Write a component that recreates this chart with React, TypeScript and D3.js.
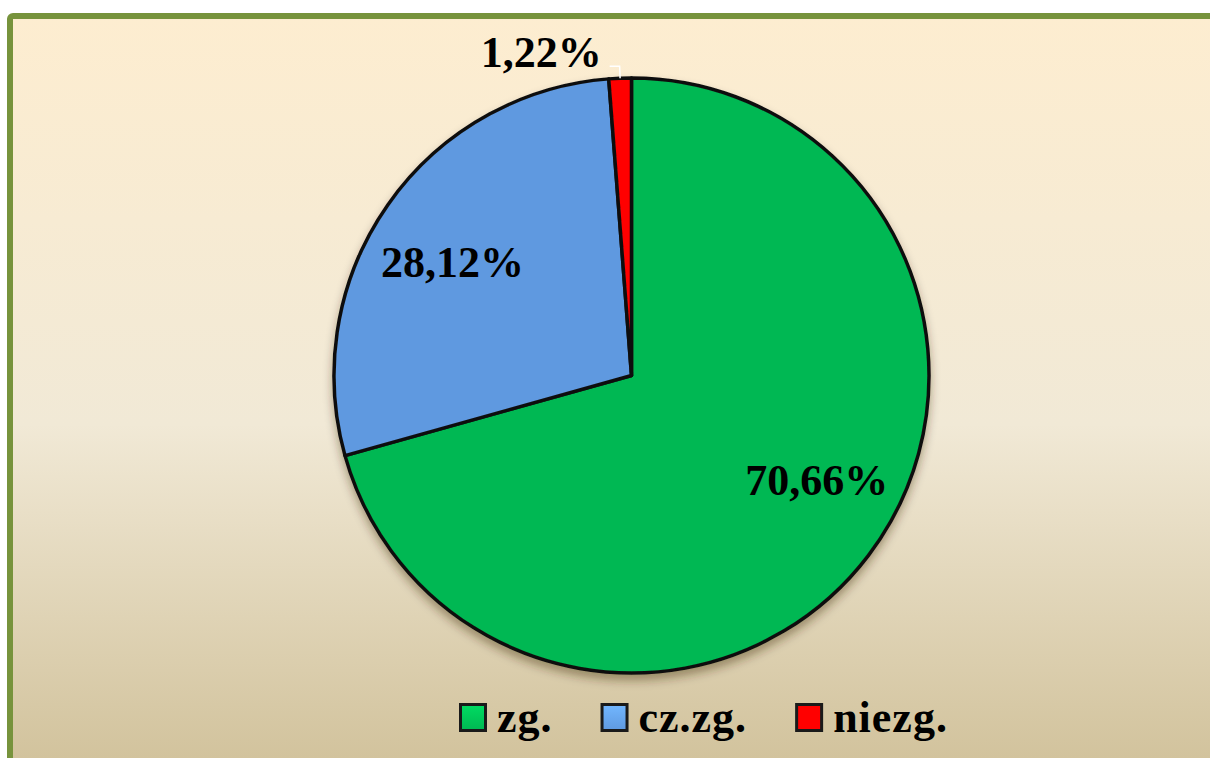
import { useEffect, useRef } from 'react';
import * as d3 from 'd3';

// dane wykresu
const categories = ['zg.', 'cz.zg.', 'niezg.'];
const values = [70.66, 28.12, 1.22];
const colors = ['#00b852', '#5f99e0', '#ff0000'];

// przesunięcia etykiet (styl, nie dane)
const labelShift = [[17, -23], [-6, 8], [0, 0]];

export default function App() {
  const ref = useRef<SVGSVGElement>(null);

  useEffect(() => {
    const W = 1210;
    const H = 758;
    const svg = d3.select(ref.current);
    svg.selectAll('*').remove();
    svg.attr('width', W).attr('height', H);

    const defs = svg.append('defs');
    const bg = defs.append('linearGradient').attr('id', 'bg')
      .attr('gradientUnits', 'userSpaceOnUse')
      .attr('x1', 0).attr('y1', 16).attr('x2', 0).attr('y2', 758);
    bg.append('stop').attr('offset', 0).attr('stop-color', '#fdedd0');
    bg.append('stop').attr('offset', 0.55).attr('stop-color', '#f1e9d6');
    bg.append('stop').attr('offset', 1).attr('stop-color', '#d2c39d');

    const shadow = defs.append('filter').attr('id', 'shadow')
      .attr('x', '-20%').attr('y', '-20%').attr('width', '140%').attr('height', '140%');
    shadow.append('feDropShadow').attr('dx', 0).attr('dy', 6).attr('stdDeviation', 5)
      .attr('flood-color', '#3a2a10').attr('flood-opacity', 0.4);

    colors.forEach((c, i) => {
      const lg = defs.append('linearGradient').attr('id', 'leg' + i)
        .attr('x1', 0).attr('y1', 0).attr('x2', 0).attr('y2', 1);
      lg.append('stop').attr('offset', 0).attr('stop-color', d3.color(c)!.brighter(0.5).formatHex());
      lg.append('stop').attr('offset', 1).attr('stop-color', c);
    });

    // tło i ramka
    svg.append('rect')
      .attr('x', 10).attr('y', 16).attr('width', W).attr('height', H)
      .attr('rx', 3)
      .attr('fill', 'url(#bg)')
      .attr('stroke', '#77933c')
      .attr('stroke-width', 6);

    const cx = 631.5;
    const cy = 375.5;
    const r = 297.5;

    const pie = d3.pie<number>().sort(null).value(d => d);
    const arcs = pie(values);
    const arc = d3.arc<d3.PieArcDatum<number>>().innerRadius(0).outerRadius(r);
    const labelArc = d3.arc<d3.PieArcDatum<number>>().innerRadius(r * 0.71).outerRadius(r * 0.71);

    const g = svg.append('g').attr('transform', `translate(${cx},${cy})`);
    g.append('g').attr('filter', 'url(#shadow)')
      .selectAll('path')
      .data(arcs)
      .join('path')
      .attr('d', arc)
      .attr('fill', (d, i) => colors[i])
      .attr('stroke', '#111')
      .attr('stroke-width', 3.5)
      .attr('stroke-linejoin', 'round');

    const locale = d3.formatLocale({ decimal: ',', thousands: ' ', grouping: [3], currency: ['', ''] });
    const fmt = (v: number) => locale.format('.2f')(v) + '%';

    const font = "'Liberation Serif', 'Times New Roman', serif";

    arcs.forEach((d, i) => {
      if (d.endAngle - d.startAngle > 0.2) {
        const [x, y] = labelArc.centroid(d);
        g.append('text')
          .attr('x', x + labelShift[i][0])
          .attr('y', y + labelShift[i][1])
          .attr('dy', '0.34em')
          .attr('text-anchor', 'middle')
          .attr('font-family', font)
          .attr('font-weight', 'bold')
          .attr('font-size', 44)
          .attr('fill', '#000')
          .text(fmt(d.data));
      } else {
        // mała część: etykieta na zewnątrz z linią odniesienia
        const mid = (d.startAngle + d.endAngle) / 2;
        const p0 = [Math.sin(mid) * r, -Math.cos(mid) * r];
        const p1 = [Math.sin(mid) * (r + 12), -Math.cos(mid) * (r + 12)];
        const p2 = [p1[0] - 10, p1[1]];
        g.append('path')
          .attr('d', d3.line()([p0 as [number, number], p1 as [number, number], p2 as [number, number]]))
          .attr('fill', 'none')
          .attr('stroke', '#ffffff')
          .attr('stroke-width', 1.5);
        g.append('text')
          .attr('x', p2[0] - 8)
          .attr('y', p2[1] + 1)
          .attr('text-anchor', 'end')
          .attr('font-family', font)
          .attr('font-weight', 'bold')
          .attr('font-size', 44)
          .attr('fill', '#000')
          .text(fmt(d.data));
      }
    });

    // legenda
    const legend = svg.append('g').attr('transform', 'translate(459,732)');
    let x = 0;
    categories.forEach((c, i) => {
      legend.append('rect')
        .attr('x', x + 1.5).attr('y', -27.5)
        .attr('width', 25).attr('height', 26)
        .attr('fill', `url(#leg${i})`)
        .attr('stroke', '#1a1a1a')
        .attr('stroke-width', 3);
      const t = legend.append('text')
        .attr('x', x + 38)
        .attr('y', 0)
        .attr('font-family', font)
        .attr('font-weight', 'bold')
        .attr('font-size', 44)
        .attr('letter-spacing', 1)
        .attr('fill', '#000')
        .text(c);
      const w = (t.node() as SVGTextElement).getComputedTextLength();
      x += 38 + w + 48;
    });
  }, []);

  return (
    <div style={{ position: 'absolute', left: 0, top: 0 }}>
      <svg ref={ref} style={{ display: 'block' }}></svg>
    </div>
  );
}
